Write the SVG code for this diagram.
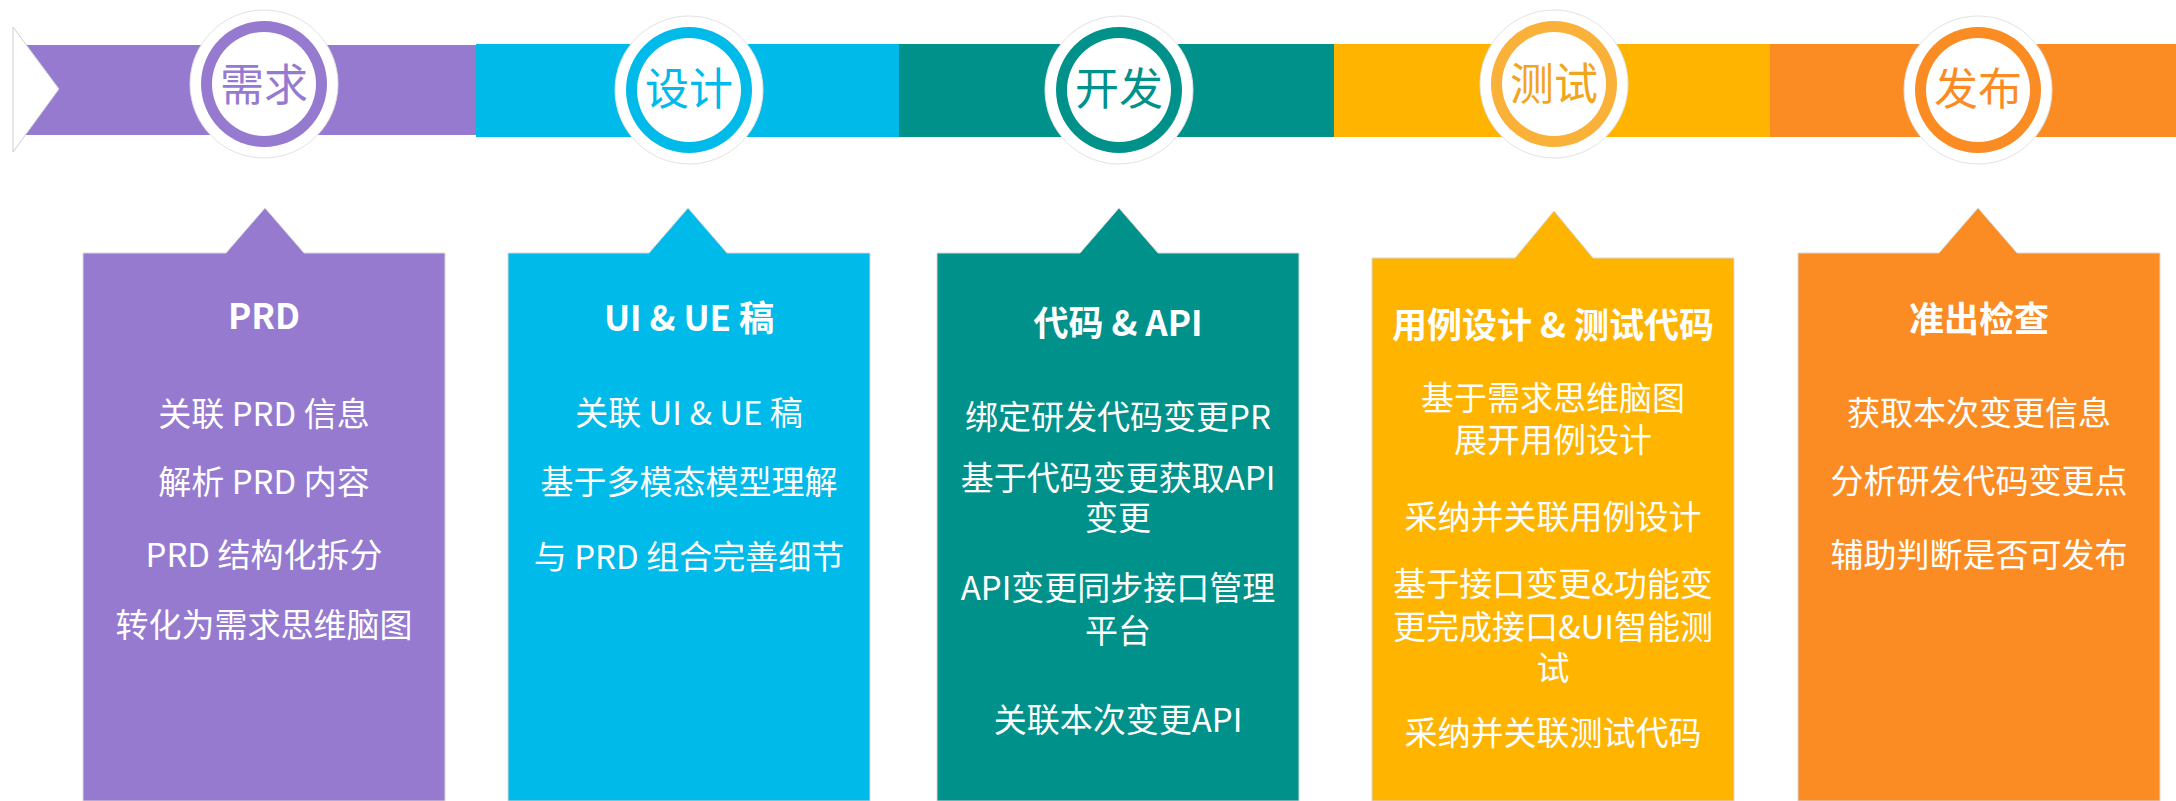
<svg xmlns="http://www.w3.org/2000/svg" width="2176" height="801" viewBox="0 0 2176 801">
<style>
text{font-family:"Noto Sans CJK SC","Noto Sans",sans-serif;text-anchor:middle}
.t{font-size:35px;font-weight:bold;fill:#fff}
.i{font-size:33px;fill:#fff}
.c{font-size:44px}
.halo{fill:#fff;stroke:#e2e2e2;stroke-width:1}
.box{stroke:#d8d8d8;stroke-width:1}
</style>
<rect width="2176" height="801" fill="#fff"/>
<g id="timeline">
<rect x="13" y="45" width="464" height="90" fill="#957AD0"/>
<rect x="476" y="44" width="424" height="93" fill="#00BAE9"/>
<rect x="899" y="44" width="436" height="93" fill="#00918B"/>
<rect x="1334" y="44" width="437" height="93" fill="#FFB400"/>
<rect x="1770" y="44" width="406" height="93" fill="#FB8C23"/>
<polygon points="13,27 59,89 13,152" fill="#fff" stroke="#cfcfcf" stroke-width="1"/>
</g>
<g id="stage-xuqiu">
<circle cx="264" cy="84" r="74" class="halo"/>
<circle cx="264" cy="84" r="63" fill="#957AD0"/>
<circle cx="264" cy="84" r="52" fill="#fff"/>
<text x="264" y="101" class="c" fill="#957AD0">需求</text>
</g>
<g id="stage-sheji">
<circle cx="689" cy="90" r="74" class="halo"/>
<circle cx="689" cy="90" r="63" fill="#00BAE9"/>
<circle cx="689" cy="90" r="52" fill="#fff"/>
<text x="689" y="105" class="c" fill="#00BAE9">设计</text>
</g>
<g id="stage-kaifa">
<circle cx="1119" cy="90" r="74" class="halo"/>
<circle cx="1119" cy="90" r="63" fill="#00918B"/>
<circle cx="1119" cy="90" r="52" fill="#fff"/>
<text x="1119" y="105" class="c" fill="#00918B">开发</text>
</g>
<g id="stage-ceshi">
<circle cx="1554" cy="84" r="74" class="halo"/>
<circle cx="1554" cy="84" r="63" fill="#F9B13A"/>
<circle cx="1554" cy="84" r="52" fill="#fff"/>
<text x="1554" y="100" class="c" fill="#F2A51C">测试</text>
</g>
<g id="stage-fabu">
<circle cx="1978" cy="90" r="74" class="halo"/>
<circle cx="1978" cy="90" r="63" fill="#FB8C23"/>
<circle cx="1978" cy="90" r="52" fill="#fff"/>
<text x="1978" y="105" class="c" fill="#FB8C23">发布</text>
</g>
<g id="connectors"></g>
<g id="box-prd">
<path class="box" d="M83,253 L226,253 L265,208 L304,253 L445,253 L445,801 L83,801 Z" fill="#957AD0"/>
<text x="264" y="329" class="t">PRD</text>
<text x="264" y="426" class="i">关联 PRD 信息</text>
<text x="264" y="494" class="i">解析 PRD 内容</text>
<text x="264" y="567" class="i">PRD 结构化拆分</text>
<text x="264" y="637" class="i">转化为需求思维脑图</text>
</g>
<g id="box-ui">
<path class="box" d="M508,253 L649,253 L688,208 L727,253 L870,253 L870,801 L508,801 Z" fill="#00BAE9"/>
<text x="689" y="331" class="t">UI &amp; UE 稿</text>
<text x="689" y="425" class="i">关联 UI &amp; UE 稿</text>
<text x="689" y="494" class="i">基于多模态模型理解</text>
<text x="689" y="569" class="i">与 PRD 组合完善细节</text>
</g>
<g id="box-code">
<path class="box" d="M937,253 L1080,253 L1119,208 L1158,253 L1299,253 L1299,801 L937,801 Z" fill="#00918B"/>
<text x="1118" y="336" class="t">代码 &amp; API</text>
<text x="1118" y="429" class="i">绑定研发代码变更PR</text>
<text x="1118" y="490" class="i">基于代码变更获取API</text>
<text x="1118" y="530" class="i">变更</text>
<text x="1118" y="600" class="i">API变更同步接口管理</text>
<text x="1118" y="643" class="i">平台</text>
<text x="1118" y="732" class="i">关联本次变更API</text>
</g>
<g id="box-test">
<path class="box" d="M1372,258 L1515,258 L1554,211 L1593,258 L1734,258 L1734,801 L1372,801 Z" fill="#FFB400"/>
<text x="1553" y="338" class="t">用例设计 &amp; 测试代码</text>
<text x="1553" y="410" class="i">基于需求思维脑图</text>
<text x="1553" y="452" class="i">展开用例设计</text>
<text x="1553" y="529" class="i">采纳并关联用例设计</text>
<text x="1553" y="596" class="i">基于接口变更&amp;功能变</text>
<text x="1553" y="639" class="i">更完成接口&amp;UI智能测</text>
<text x="1553" y="680" class="i">试</text>
<text x="1553" y="745" class="i">采纳并关联测试代码</text>
</g>
<g id="box-release">
<path class="box" d="M1798,253 L1939,253 L1978,208 L2017,253 L2160,253 L2160,801 L1798,801 Z" fill="#FB8C23"/>
<text x="1979" y="332" class="t">准出检查</text>
<text x="1979" y="425" class="i">获取本次变更信息</text>
<text x="1979" y="493" class="i">分析研发代码变更点</text>
<text x="1979" y="567" class="i">辅助判断是否可发布</text>
</g>
</svg>
